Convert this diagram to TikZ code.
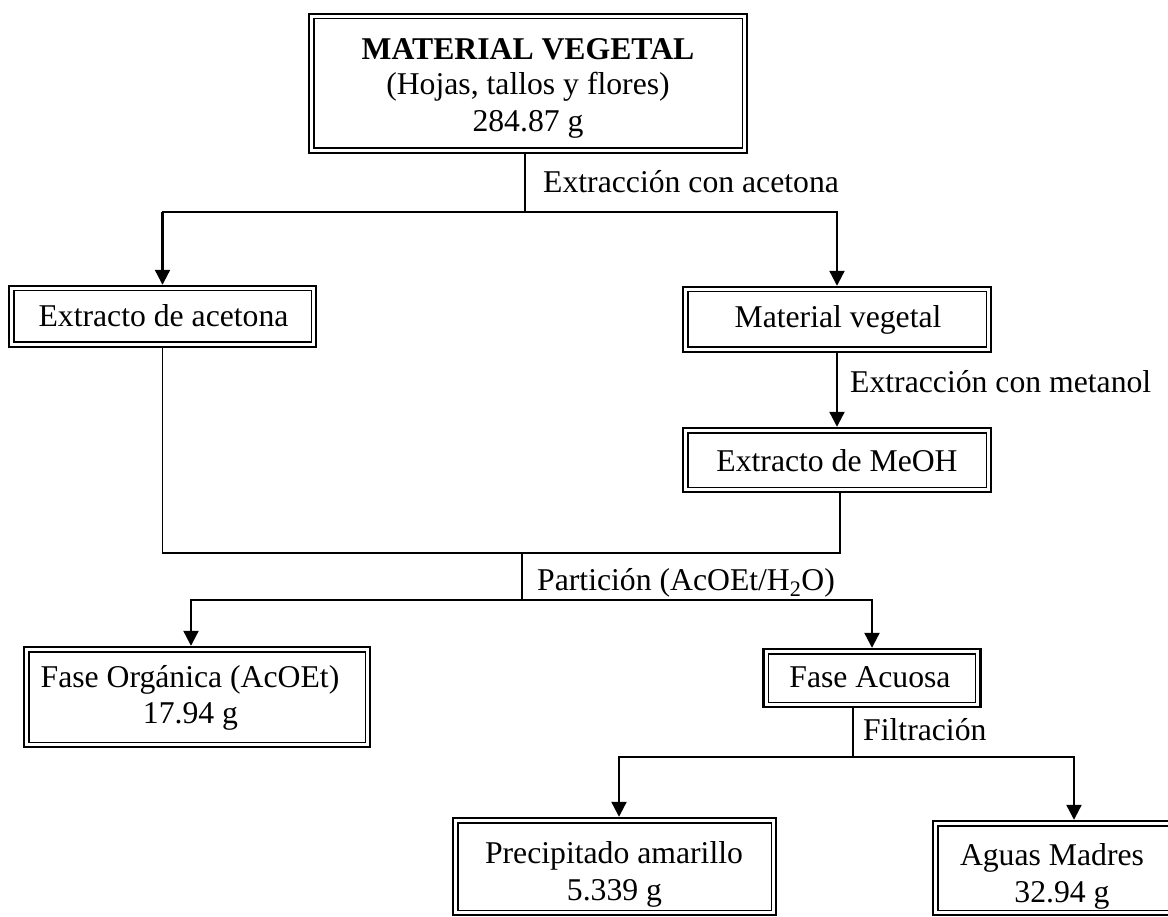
\documentclass[tikz,border=0pt]{standalone}
\usepackage{fontspec}
\setmainfont{Liberation Serif}
\usetikzlibrary{arrows.meta}
\tikzset{
  dbox/.style={draw, line width=2.4pt, rectangle, inner sep=0pt,
    path picture={\draw[line width=1.4pt]
      ([shift={(4.8pt,-4.8pt)}]path picture bounding box.north west) rectangle
      ([shift={(-4.8pt,4.8pt)}]path picture bounding box.south east);}},
  txt/.style={anchor=base, inner sep=0pt, font=\fontsize{31.7pt}{36pt}\selectfont},
  lbl/.style={anchor=base west, inner sep=0pt, font=\fontsize{31.7pt}{36pt}\selectfont},
  conn/.style={line width=1.6pt, line cap=rect},
  arr/.style={line width=2.2pt, -{Triangle[length=15pt,width=15pt]}}
}
\begin{document}
\begin{tikzpicture}[x=1pt,y=-1pt]
\useasboundingbox (0,0) rectangle (1168,917);
\clip (0,0) rectangle (1168,917);
% boxes
\node[dbox, minimum width=438pt, minimum height=139pt] (T) at (528,83.5) {};
\node[dbox, minimum width=307pt, minimum height=61pt] (EA) at (162.5,316.5) {};
\node[dbox, minimum width=308pt, minimum height=65pt] (MV) at (837,319.5) {};
\node[dbox, minimum width=308pt, minimum height=64pt] (MeOH) at (837,460) {};
\node[dbox, minimum width=346pt, minimum height=100pt] (FO) at (197,697) {};
\node[dbox, minimum width=217pt, minimum height=58pt] (FA) at (872,678) {};
\node[dbox, minimum width=323pt, minimum height=97pt] (PA) at (614.5,866.5) {};
\node[dbox, minimum width=282pt, minimum height=94pt] (AM) at (1074,868) {};
% box texts
\node[txt] (T1) at (528,60) {\bfseries MATERIAL VEGETAL};
\node[txt] (T2) at (528,95) {(Hojas, tallos y flores)};
\node[txt] (T3) at (528,132) {284.87 g};
\node[txt] (EAt) at (163.5,327) {Extracto de acetona};
\node[txt] (MVt) at (838,328) {Material vegetal};
\node[txt] (MeOHt) at (837,471) {Extracto de MeOH};
\node[txt] (FO1) at (190,687) {Fase Orgánica (AcOEt)};
\node[txt] (FO2) at (190.5,723) {17.94 g};
\node[txt] (FAt) at (870,687) {Fase Acuosa};
\node[txt] (PA1) at (614,863) {Precipitado amarillo};
\node[txt] (PA2) at (614.5,900) {5.339 g};
\node[txt] (AM1) at (1052,865) {Aguas Madres};
\node[txt] (AM2) at (1062,902) {32.94 g};
% labels
\node[lbl] (L1) at (543,193) {Extracción con acetona};
\node[lbl] (L2) at (850,392) {Extracción con metanol};
\node[lbl] (L3) at (537,590) {Partición (AcOEt/H\textsubscript{2}O)};
\node[lbl] (L4) at (863,740) {Filtración};
% connectors
\coordinate (j1) at (525,212);
\draw[conn] (T.south -| j1) -- (j1);
\draw[conn] (EA.north |- j1) -- (MV.north |- j1);
\draw[arr] (EA.north |- j1) -- (EA.north);
\draw[arr] (MV.north |- j1) -- (MV.north);
\draw[arr] (MV.south) -- (MeOH.north);
\coordinate (j2) at (522,553);
\coordinate (j3) at (522,600);
\coordinate (m1) at (840,553);
\draw[conn] (EA.south) -- (EA.south |- j2) -- (m1) -- (m1 |- MeOH.south);
\draw[conn] (j2) -- (j3);
\coordinate (s1) at (191,600);
\coordinate (s2) at (872,600);
\draw[conn] (s1) -- (s2);
\draw[arr] (s1) -- (s1 |- FO.north);
\draw[arr] (s2) -- (FA.north);
\coordinate (j4) at (853,757);
\draw[conn] (FA.south -| j4) -- (j4);
\coordinate (s3) at (619,757);
\coordinate (s4) at (1074,757);
\draw[conn] (s3) -- (s4);
\draw[arr] (s3) -- (s3 |- PA.north);
\draw[arr] (s4) -- (AM.north);
\end{tikzpicture}
\end{document}
